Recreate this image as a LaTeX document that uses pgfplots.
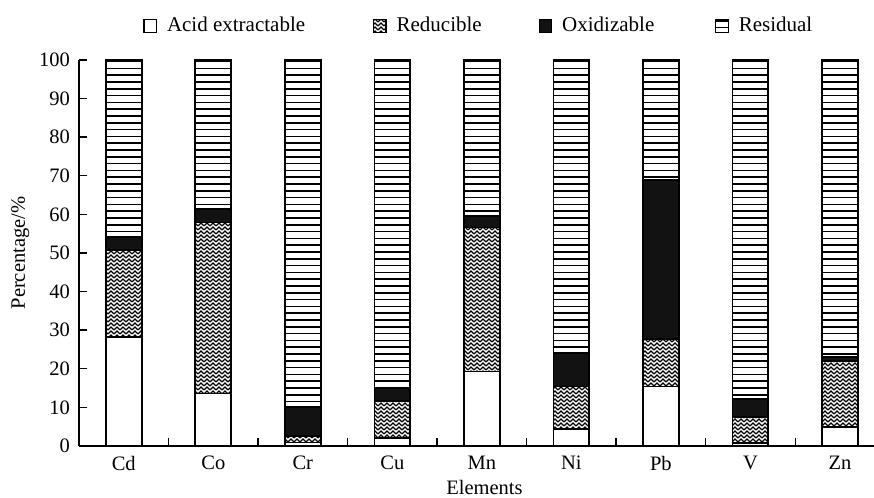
\documentclass[border=0pt]{standalone}
\usepackage{fontspec}
\setmainfont{Liberation Serif}
\usepackage{pgfplots}
\pgfplotsset{compat=1.18}
\usetikzlibrary{patterns}
\pgfdeclarepatternformonly{hlinesR}{\pgfpointorigin}{\pgfqpoint{100pt}{1.2pt}}{\pgfqpoint{100pt}{3.4pt}}{%
  \pgfsetlinewidth{0.8pt}%
  \pgfpathmoveto{\pgfqpoint{0pt}{0.6pt}}%
  \pgfpathlineto{\pgfqpoint{100pt}{0.6pt}}%
  \pgfusepath{stroke}}
\pgfdeclarepatternformonly{zigzagR}{\pgfqpoint{-0.5pt}{-0.5pt}}{\pgfqpoint{3.5pt}{2.5pt}}{\pgfqpoint{3pt}{2pt}}{%
  \pgfsetlinewidth{0.55pt}%
  \pgfpathmoveto{\pgfqpoint{0pt}{0pt}}%
  \pgfpathlineto{\pgfqpoint{1.5pt}{1.5pt}}%
  \pgfpathlineto{\pgfqpoint{3pt}{0pt}}%
  \pgfusepath{stroke}}
\newcommand{\lfont}{\fontsize{10.5pt}{12pt}\selectfont}
\newcommand{\tfont}{\fontsize{10.25pt}{12pt}\selectfont}
\begin{document}
\begin{tikzpicture}
\begin{axis}[
  scale only axis, width=397.5pt, height=193pt,
  ybar stacked, bar width=0.4,
  xmin=-0.5, xmax=8.38, ymin=0, ymax=100,
  xtick={0,...,8}, xticklabels={Cd,Co,Cr,Cu,Mn,Ni,Pb,V,Zn},
  minor xtick={0.5,1.5,...,7.5},
  ytick={0,10,...,100},
  axis x line*=bottom, axis y line*=left,
  tick align=inside, major tick length=4pt, minor tick length=4pt,
  major x tick style={draw=none},
  every tick/.style={line width=0.7pt, black},
  axis line style={line width=0.7pt},
  clip=false,
  /pgf/number format/assume math mode=true,
  tick label style={font=\tfont},
  yticklabel style={xshift=-1pt},
  xticklabel style={yshift=-1.5pt},
  xlabel={Elements}, ylabel={Percentage/\%},
  label style={font=\tfont},
  xlabel style={at={(axis description cs:0.51,-0.107)}, anchor=center},
  ylabel style={at={(axis description cs:-0.074,0.5)}, anchor=center},
  legend columns=4,
  legend style={at={(axis description cs:0.0805,1)}, anchor=west, yshift=17pt,
    draw=none, fill=none, inner sep=0pt,
    font=\lfont},
  legend image code/.code={\draw[#1, line width=0.6pt] (0pt,-3.4pt) rectangle (6.2pt,3.4pt);},
]
\addplot[fill=white, draw=black, line width=0.9pt] coordinates
  {(0,28.3) (1,13.6) (2,0.9) (3,2.0) (4,19.3) (5,4.3) (6,15.4) (7,0.8) (8,5.0)};
\addplot[pattern=zigzagR, draw=black, line width=0.9pt] coordinates
  {(0,22.5) (1,44.3) (2,1.7) (3,9.7) (4,37.3) (5,11.1) (6,12.3) (7,6.8) (8,17.1)};
\addplot[fill=black!93, draw=black, line width=0.9pt] coordinates
  {(0,3.4) (1,3.4) (2,7.6) (3,3.4) (4,3.0) (5,8.6) (6,41.2) (7,4.5) (8,1.0)};
\addplot[pattern=hlinesR, draw=black, line width=0.9pt] coordinates
  {(0,45.8) (1,38.7) (2,89.8) (3,84.9) (4,40.4) (5,76.0) (6,31.1) (7,87.9) (8,76.9)};
\legend{\hspace{3pt}\makebox[101pt][l]{Acid extractable}, \hspace{3pt}\makebox[69pt][l]{Reducible}, \hspace{3pt}\makebox[74.5pt][l]{Oxidizable}, \hspace{3pt}Residual}
\end{axis}
\pgfresetboundingbox
\useasboundingbox (-39.5pt,-26pt) rectangle (397.5pt,223pt);
\end{tikzpicture}
\end{document}
